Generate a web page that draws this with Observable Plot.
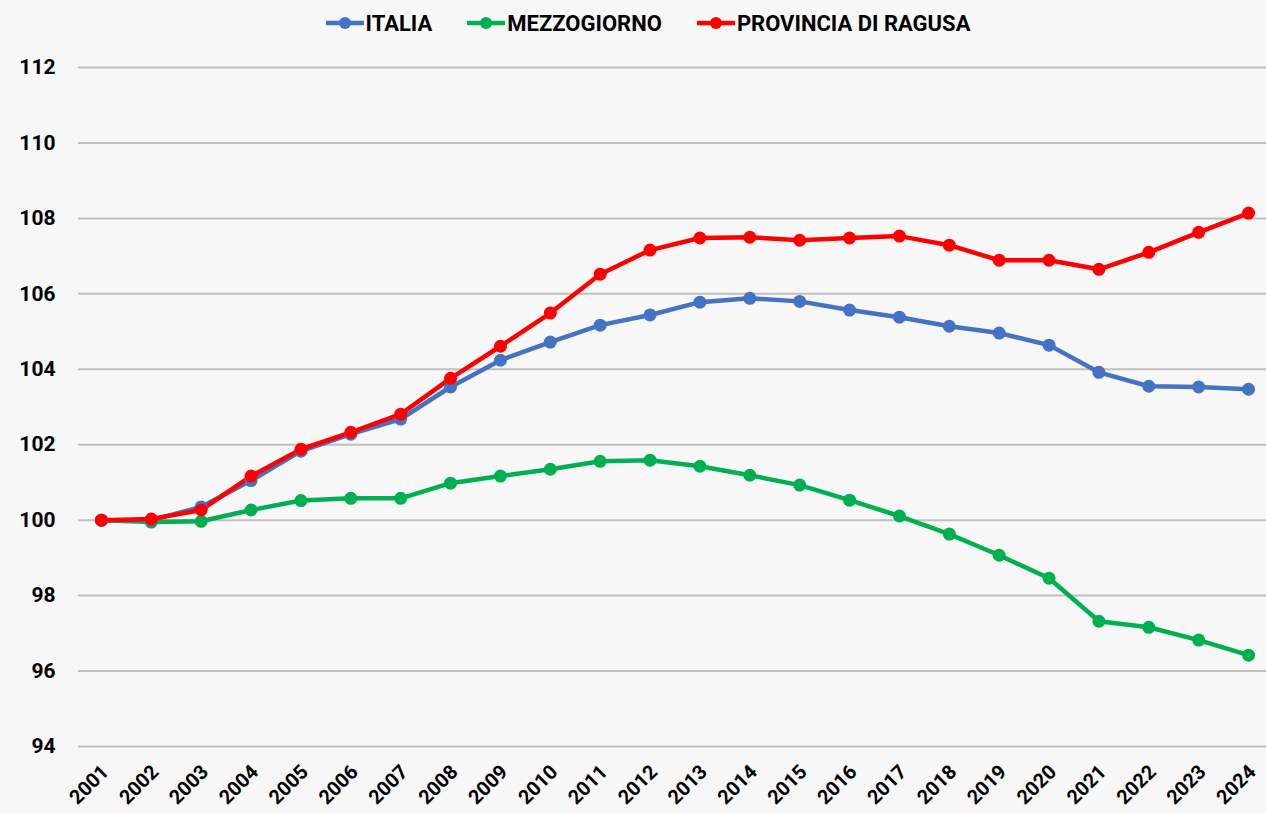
<!DOCTYPE html>
<html>
<head>
<meta charset="utf-8">
<script src="https://cdn.jsdelivr.net/npm/d3@7"></script>
<script src="https://cdn.jsdelivr.net/npm/@observablehq/plot@0.6"></script>
<style>
  html, body { margin: 0; padding: 0; background: #f7f7f7; }
  body { width: 1266px; height: 813px; overflow: hidden; font-family: Roboto, "Open Sans", sans-serif; }
  #legend { height: 46px; display: flex; justify-content: center; align-items: center; gap: 35px; font-weight: bold; font-size: 22px; color: #000; padding-left: 30px; }
  .item { display: flex; align-items: center; gap: 2px; }
  .item svg { display: block; }
</style>
</head>
<body>
<div id="legend"></div>
<div id="chart"></div>
<script>
const years = [2001,2002,2003,2004,2005,2006,2007,2008,2009,2010,2011,2012,2013,2014,2015,2016,2017,2018,2019,2020,2021,2022,2023,2024];
const italia = [100,100.0,100.35,101.05,101.83,102.28,102.68,103.53,104.24,104.72,105.17,105.44,105.78,105.88,105.80,105.57,105.38,105.14,104.96,104.64,103.92,103.55,103.53,103.47];
const mezzogiorno = [100,99.95,99.97,100.27,100.52,100.58,100.58,100.98,101.17,101.35,101.56,101.59,101.43,101.19,100.93,100.53,100.11,99.63,99.07,98.46,97.32,97.16,96.82,96.42];
const ragusa = [100,100.03,100.27,101.17,101.88,102.33,102.81,103.76,104.61,105.49,106.52,107.16,107.48,107.50,107.42,107.48,107.53,107.29,106.89,106.89,106.65,107.10,107.63,108.14];
const seriesNames = ["ITALIA","MEZZOGIORNO","PROVINCIA DI RAGUSA"];
const seriesColors = ["#4472C4","#00B050","#FF0000"];
const yTicks = [94,96,98,100,102,104,106,108,110,112];

const seriesValues = [italia, mezzogiorno, ragusa];
const data = [];
// draw order: green, blue, red
[1,0,2].forEach(si => {
  years.forEach((yr, i) => data.push({series: seriesNames[si], year: yr, value: seriesValues[si][i]}));
});

// Legend
const legend = document.getElementById("legend");
seriesNames.forEach((name, i) => {
  const it = document.createElement("div");
  it.className = "item";
  it.innerHTML = `<svg width="38" height="14"><line x1="1" y1="7" x2="37" y2="7" stroke="${seriesColors[i]}" stroke-width="4.5" stroke-linecap="round"/><circle cx="19" cy="7" r="6" fill="${seriesColors[i]}"/></svg><span>${name}</span>`;
  legend.appendChild(it);
});

const color = {domain: seriesNames, range: seriesColors};
const plot = Plot.plot({
  width: 1266,
  height: 767,
  marginTop: 21,
  marginBottom: 67,
  marginLeft: 78,
  marginRight: 0,
  style: {background: "#f7f7f7", fontFamily: "Roboto, 'Open Sans', sans-serif", fontSize: "20px", fontWeight: "bold", color: "#000"},
  x: {domain: [2000.54, 2024.36], axis: null},
  y: {domain: [94, 112], axis: null},
  color,
  marks: [
    Plot.ruleY(yTicks, {stroke: "#c0c0c0", strokeWidth: 2}),
    Plot.axisY({ticks: yTicks, tickSize: 0, tickPadding: 23, tickFormat: d => String(d), fontSize: 21, fontWeight: "bold", label: null}),
    Plot.axisX({ticks: years, tickSize: 0, tickPadding: 22, tickRotate: -45, tickFormat: d => String(d), fontSize: 20, fontWeight: "bold", label: null, dx: 4}),
    Plot.line(data, {x: "year", y: "value", z: "series", stroke: "series", strokeWidth: 4.5, strokeLinejoin: "round", strokeLinecap: "round"}),
    Plot.dot(data, {x: "year", y: "value", fill: "series", r: 6.5, stroke: "none"})
  ]
});
document.getElementById("chart").appendChild(plot);
</script>
</body>
</html>
